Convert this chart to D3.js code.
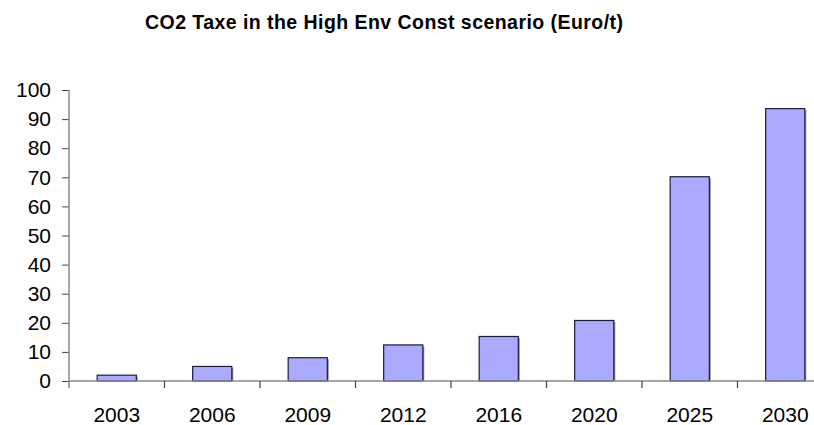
<!DOCTYPE html>
<html>
<head>
<meta charset="utf-8">
<script src="https://cdn.jsdelivr.net/npm/d3@7"></script>
<style>
  html, body { margin: 0; padding: 0; background: #fff; overflow: hidden; }
  svg { display: block; font-family: "Liberation Sans", Arial, sans-serif; }
</style>
</head>
<body>
<svg id="chart" width="814" height="425"></svg>
<script>
const title = "CO2 Taxe in the High Env Const scenario (Euro/t)";
const years = ["2003", "2006", "2009", "2012", "2016", "2020", "2025", "2030"];
const taxValues = [2, 5, 8, 12.4, 15.3, 20.8, 70.2, 93.6];
const yTicks = [0, 10, 20, 30, 40, 50, 60, 70, 80, 90, 100];

const svg = d3.select("#chart");
const plotLeft = 69, plotRight = 833, plotTop = 90, plotBottom = 381;

const x = d3.scaleBand().domain(years).range([plotLeft, plotRight])
  .paddingInner(0.59).paddingOuter(0.295);
const xCat = d3.scaleBand().domain(years).range([plotLeft, plotRight]).padding(0);
const y = d3.scaleLinear().domain([0, 100]).range([plotBottom, plotTop]);

// title
svg.append("text")
  .attr("x", 145).attr("y", 29)
  .attr("text-anchor", "start")
  .attr("font-size", 19.5).attr("font-weight", "bold")
  .attr("textLength", 478).attr("lengthAdjust", "spacing")
  .attr("fill", "#000")
  .text(title);

// bars (shadow + bar)
const bars = svg.append("g");
bars.selectAll("rect.shadow").data(years).join("rect")
  .attr("class", "shadow")
  .attr("x", d => x(d) + 1.5)
  .attr("y", (d, i) => y(taxValues[i]) + 1.5)
  .attr("width", x.bandwidth())
  .attr("height", (d, i) => y(0) - y(taxValues[i]) - 1.5)
  .attr("fill", "#999");
bars.selectAll("rect.bar").data(years).join("rect")
  .attr("class", "bar")
  .attr("x", d => x(d))
  .attr("y", (d, i) => y(taxValues[i]))
  .attr("width", x.bandwidth())
  .attr("height", (d, i) => y(0) - y(taxValues[i]))
  .attr("fill", "#AAAAFF")
  .attr("stroke", "#1a1a40")
  .attr("stroke-width", 1.2);

// y axis
const yAxis = svg.append("g")
  .attr("transform", `translate(${plotLeft},0)`)
  .call(d3.axisLeft(y).tickValues(yTicks).tickSize(7).tickPadding(11));
yAxis.select(".domain").remove();
yAxis.selectAll(".tick line").attr("stroke", "#444");
yAxis.selectAll(".tick text")
  .attr("font-size", 21)
  .attr("font-family", "Liberation Sans, Arial, sans-serif")
  .attr("fill", "#000");
svg.append("line")
  .attr("x1", plotLeft).attr("x2", plotLeft)
  .attr("y1", plotTop).attr("y2", plotBottom + 7)
  .attr("stroke", "#888").attr("stroke-width", 1.5);

// x axis
const xAxis = svg.append("g")
  .attr("transform", `translate(0,${plotBottom})`)
  .call(d3.axisBottom(xCat).tickSize(0).tickPadding(0));
xAxis.select(".domain").remove();
xAxis.selectAll(".tick line").remove();
xAxis.selectAll(".tick text")
  .attr("y", 26)
  .attr("font-size", 21)
  .attr("font-family", "Liberation Sans, Arial, sans-serif")
  .attr("fill", "#000");
svg.append("line")
  .attr("x1", plotLeft).attr("x2", plotRight)
  .attr("y1", plotBottom).attr("y2", plotBottom)
  .attr("stroke", "#888").attr("stroke-width", 1.5);
const bounds = years.map(d => xCat(d)).concat([plotRight]);
svg.append("g").selectAll("line").data(bounds.slice(1)).join("line")
  .attr("x1", d => d).attr("x2", d => d)
  .attr("y1", plotBottom).attr("y2", plotBottom + 7)
  .attr("stroke", "#444").attr("stroke-width", 1.2);
</script>
</body>
</html>
